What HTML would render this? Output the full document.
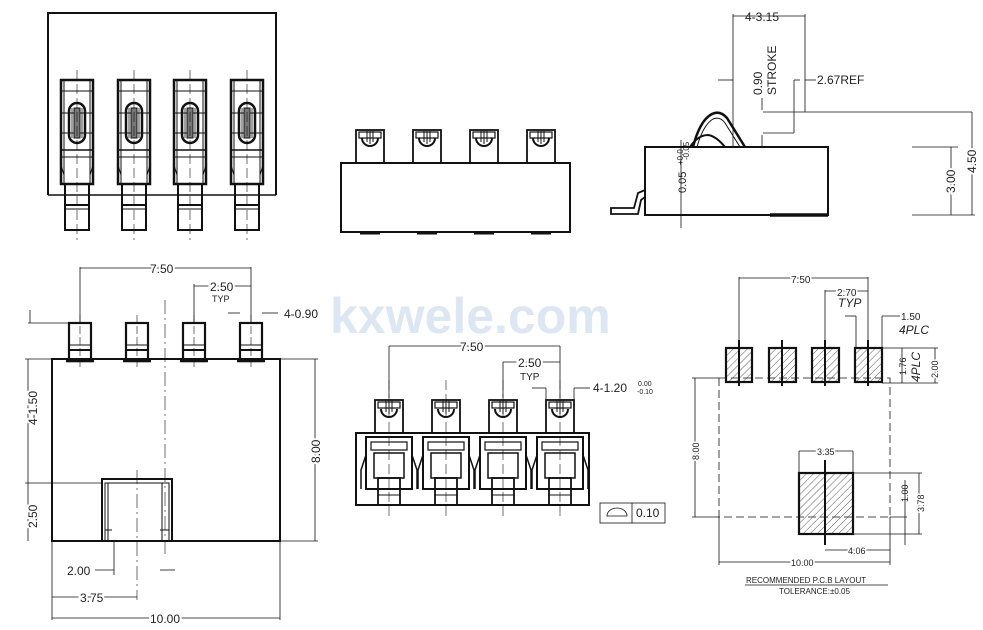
<!DOCTYPE html>
<html><head><meta charset="utf-8"><style>
html,body{margin:0;padding:0;background:#fff;}
svg{display:block;}
text{font-family:"Liberation Sans","DejaVu Sans",sans-serif;fill:#222;}
</style></head><body>
<svg width="983" height="630" viewBox="0 0 983 630" xmlns="http://www.w3.org/2000/svg">
<defs>
<pattern id="h" width="5" height="5" patternUnits="userSpaceOnUse" patternTransform="rotate(45)">
<line x1="0" y1="0" x2="0" y2="5" stroke="#333" stroke-width="0.8"/></pattern>
<g id="p1" fill="none" stroke="#111">
<rect x="-16" y="80" width="32" height="104" stroke-width="2.5"/>
<line x1="-13" y1="80" x2="-13" y2="184" stroke-width="1"/>
<line x1="13" y1="80" x2="13" y2="184" stroke-width="1"/>
<line x1="-16" y1="91" x2="16" y2="91"/>
<line x1="-16" y1="113" x2="16" y2="113"/>
<line x1="-16" y1="133" x2="16" y2="133"/>
<line x1="-16" y1="150" x2="16" y2="150" stroke-width="1.5"/>
<line x1="-16" y1="157" x2="16" y2="157"/>
<rect x="-8" y="103" width="16" height="40" rx="8" stroke-width="2.5"/>
<rect x="-3" y="108" width="6" height="30" fill="#777" stroke-width="1"/>
<line x1="-5" y1="108" x2="-5" y2="138" stroke-width="0.8"/>
<line x1="5" y1="108" x2="5" y2="138" stroke-width="0.8"/>
<path d="M-16 165 L-13 175 L-13 184 M16 165 L13 175 L13 184" stroke-width="1"/>
<rect x="-12" y="184" width="24" height="46" stroke-width="2"/>
<line x1="-12" y1="205" x2="12" y2="205" stroke-width="2"/>
<line x1="-12" y1="209" x2="12" y2="209" stroke-width="1"/>
<line x1="0" y1="70" x2="0" y2="240" stroke-width="0.6" stroke-dasharray="10,4"/>
</g>
<g id="p2" fill="none" stroke="#111">
<rect x="-14" y="130" width="28" height="33" stroke-width="1.8"/>
<rect x="-11" y="132" width="22" height="6" stroke-width="1.2"/>
<path d="M-8 138 A8 8 0 0 0 8 138" stroke-width="2"/>
<line x1="-3" y1="131" x2="-3" y2="142"/><line x1="0" y1="131" x2="0" y2="144"/><line x1="3" y1="131" x2="3" y2="142"/>
<line x1="-10" y1="233" x2="10" y2="233" stroke-width="3"/>
</g>
<g id="p4" fill="none" stroke="#111">
<rect x="-11" y="323" width="22" height="38" stroke-width="2.2"/>
<line x1="-11" y1="345" x2="11" y2="345"/>
<line x1="-11" y1="350" x2="11" y2="350" stroke-width="2"/>
<line x1="-14" y1="361" x2="14" y2="361" stroke-width="2.5"/>
<line x1="0" y1="315" x2="0" y2="370" stroke-width="0.6" stroke-dasharray="8,3"/>
</g>
<g id="p5" fill="none" stroke="#111">
<rect x="-14" y="400" width="28" height="33" stroke-width="1.8"/>
<rect x="-11" y="402" width="22" height="6" stroke-width="1.2"/>
<path d="M-8 409 A8 8 0 0 0 8 409" stroke-width="2"/>
<line x1="-3" y1="401" x2="-3" y2="412"/><line x1="0" y1="401" x2="0" y2="414"/><line x1="3" y1="401" x2="3" y2="412"/>
<rect x="-23" y="437" width="46" height="52" stroke-width="2"/>
<rect x="-18" y="442" width="36" height="8" stroke-width="1.2"/>
<rect x="-15" y="453" width="30" height="25" stroke-width="1.5"/>
<path d="M-23 455 L-28 470 L-28 489 M23 455 L28 470 L28 489" stroke-width="1.5"/>
<rect x="-11" y="478" width="22" height="27" stroke-width="1.8"/>
<line x1="-11" y1="495" x2="11" y2="495"/>
<line x1="0" y1="380" x2="0" y2="520" stroke-width="0.6" stroke-dasharray="10,4"/>
</g>
</defs>

<!-- watermark -->
<text x="330" y="333" font-size="50" font-weight="bold" style="fill:#dde7f3">kxwele.com</text>

<!-- View 1 -->
<path d="M48 195 L48 13 L276 13 L276 195" fill="none" stroke="#111" stroke-width="2"/>
<line x1="48" y1="195" x2="276" y2="195" stroke="#111" stroke-width="1.5"/>
<use href="#p1" x="77"/><use href="#p1" x="134"/><use href="#p1" x="190"/><use href="#p1" x="247"/>

<!-- View 2 -->
<rect x="341" y="163" width="229" height="69" fill="none" stroke="#111" stroke-width="2"/>
<use href="#p2" x="370"/><use href="#p2" x="427"/><use href="#p2" x="484"/><use href="#p2" x="541"/>

<!-- View 3 side -->
<g fill="none" stroke="#111">
<rect x="645" y="147" width="183" height="68" stroke-width="2"/>
<line x1="770" y1="215" x2="828" y2="215" stroke-width="3.5"/>
<path d="M645 190 L638 193 L634 208 L611 208 L611 214 L638 214 L641 200 L645 197" stroke-width="1.8"/>
<path d="M693 147 Q700 120 712 114 Q720 110 727 118 L745 147" stroke-width="2.5"/>
<path d="M697 147 Q703 125 713 119 Q720 116 725 123 L740 147" stroke-width="1"/>
<path d="M690 147 Q698 135 708 135 Q716 136 725 147" stroke-width="2"/>
<g stroke-width="0.8">
<line x1="733" y1="14" x2="733" y2="147"/><line x1="805" y1="14" x2="805" y2="112"/>
<line x1="733" y1="16" x2="805" y2="16"/>
<line x1="718" y1="80" x2="733" y2="80"/>
<line x1="794" y1="80" x2="800" y2="80"/><line x1="805" y1="80" x2="816" y2="80"/>
<line x1="794" y1="80" x2="794" y2="133"/><line x1="763" y1="133" x2="794" y2="133"/>
<line x1="763" y1="112" x2="972" y2="112"/>
<line x1="762" y1="98" x2="762" y2="110"/><line x1="762" y1="135" x2="762" y2="147"/>
<line x1="681" y1="140" x2="681" y2="228"/>
<line x1="912" y1="147" x2="958" y2="147"/><line x1="912" y1="215" x2="975" y2="215"/>
<line x1="951" y1="147" x2="951" y2="215"/><line x1="972" y1="112" x2="972" y2="215"/>
</g>
</g>
<text x="745" y="21" font-size="12">4-3.15</text>
<text x="817" y="84" font-size="12">2.67REF</text>
<text transform="translate(762,95) rotate(-90)" font-size="12">0.90</text>
<text transform="translate(776,95) rotate(-90)" font-size="12">STROKE</text>
<text transform="translate(686,193) rotate(-90)" font-size="11">0.05</text>
<text transform="translate(683,165) rotate(-90)" font-size="8">+0.0</text>
<text transform="translate(689,160) rotate(-90)" font-size="8">-0.05</text>
<text transform="translate(955,193) rotate(-90)" font-size="12" style="fill:#222;paint-order:stroke;stroke:#fff;stroke-width:4">3.00</text>
<text transform="translate(976,173) rotate(-90)" font-size="12" style="fill:#222;paint-order:stroke;stroke:#fff;stroke-width:4">4.50</text>

<!-- View 4 -->
<g fill="none" stroke="#111">
<rect x="52" y="359" width="228" height="182" stroke-width="2"/>
<rect x="102" y="479" width="70" height="62" stroke-width="2"/>
<rect x="105" y="483" width="64" height="58" stroke-width="1"/>
<line x1="108" y1="483" x2="108" y2="541"/><line x1="162" y1="483" x2="162" y2="541"/>
<line x1="105" y1="530" x2="112" y2="530"/><line x1="160" y1="530" x2="169" y2="530"/>
<line x1="165" y1="300" x2="165" y2="555" stroke-width="0.6" stroke-dasharray="14,4,2,4"/>
<line x1="137" y1="470" x2="137" y2="600" stroke-width="0.6" stroke-dasharray="14,4,2,4"/>
</g>
<use href="#p4" x="80"/><use href="#p4" x="137"/><use href="#p4" x="194"/><use href="#p4" x="251"/>
<g stroke="#111" stroke-width="0.8" fill="none">
<line x1="80" y1="267" x2="80" y2="323"/><line x1="251" y1="267" x2="251" y2="323"/>
<line x1="80" y1="268" x2="251" y2="268"/>
<line x1="194" y1="284" x2="194" y2="323"/><line x1="194" y1="286" x2="251" y2="286"/>
<line x1="228" y1="313" x2="240" y2="313"/><line x1="262" y1="313" x2="278" y2="313"/>
<line x1="28" y1="323" x2="69" y2="323"/><line x1="30" y1="310" x2="30" y2="323"/>
<line x1="25" y1="359" x2="52" y2="359"/><line x1="28" y1="359" x2="28" y2="541"/>
<line x1="25" y1="483" x2="102" y2="483"/>
<line x1="280" y1="359" x2="318" y2="359"/><line x1="280" y1="541" x2="318" y2="541"/>
<line x1="315" y1="359" x2="315" y2="541"/>
<line x1="52" y1="541" x2="52" y2="620"/><line x1="280" y1="541" x2="280" y2="620"/>
<line x1="52" y1="618" x2="280" y2="618"/><line x1="52" y1="597" x2="137" y2="597"/>
<line x1="114" y1="541" x2="114" y2="575"/><line x1="95" y1="570" x2="114" y2="570"/>
<line x1="160" y1="570" x2="175" y2="570"/>
</g>
<g font-size="12">
<text x="150" y="273" style="paint-order:stroke;stroke:#fff;stroke-width:4">7.50</text>
<text x="210" y="291" style="paint-order:stroke;stroke:#fff;stroke-width:4">2.50</text>
<text x="212" y="302" font-size="9" font-family="Liberation Serif">TYP</text>
<text x="284" y="318">4-0.90</text>
<text x="67" y="575">2.00</text>
<text x="80" y="602" style="paint-order:stroke;stroke:#fff;stroke-width:4">3.75</text>
<text x="150" y="623" style="paint-order:stroke;stroke:#fff;stroke-width:4">10.00</text>
<text transform="translate(37,425) rotate(-90)" style="paint-order:stroke;stroke:#fff;stroke-width:4">4-1.50</text>
<text transform="translate(37,528) rotate(-90)" style="paint-order:stroke;stroke:#fff;stroke-width:4">2.50</text>
<text transform="translate(320,463) rotate(-90)" style="paint-order:stroke;stroke:#fff;stroke-width:4">8.00</text>
</g>

<!-- View 5 -->
<rect x="356" y="433" width="233" height="72" fill="none" stroke="#111" stroke-width="2"/>
<use href="#p5" x="389"/><use href="#p5" x="446"/><use href="#p5" x="503"/><use href="#p5" x="560"/>
<g stroke="#111" stroke-width="0.8" fill="none">
<line x1="389" y1="346" x2="560" y2="346"/><line x1="389" y1="346" x2="389" y2="398"/><line x1="560" y1="346" x2="560" y2="398"/>
<line x1="503" y1="362" x2="560" y2="362"/><line x1="503" y1="362" x2="503" y2="398"/>
<line x1="532" y1="388" x2="546" y2="388"/><line x1="574" y1="388" x2="590" y2="388"/>
<line x1="546" y1="388" x2="546" y2="400"/><line x1="574" y1="388" x2="574" y2="400"/>
<rect x="600" y="503" width="65" height="20"/><line x1="632" y1="503" x2="632" y2="523"/>
<path d="M607 516 A10 8 0 0 1 627 516 Z"/>
</g>
<g font-size="12">
<text x="460" y="351" style="paint-order:stroke;stroke:#fff;stroke-width:4">7.50</text>
<text x="518" y="367" style="paint-order:stroke;stroke:#fff;stroke-width:4">2.50</text>
<text x="520" y="380" font-size="10">TYP</text>
<text x="593" y="392">4-1.20</text>
<text x="638" y="386" font-size="7">0.00</text>
<text x="637" y="394" font-size="7">-0.10</text>
<text x="636" y="517" font-size="12">0.10</text>
</g>

<!-- View 6 PCB -->
<g stroke="#111" fill="none">
<rect x="719" y="378" width="171" height="139" stroke-width="0.8" stroke-dasharray="8,4"/>
<rect x="726" y="348" width="26" height="34" fill="url(#h)" stroke-width="2.2"/>
<rect x="769" y="348" width="27" height="34" fill="url(#h)" stroke-width="2.2"/>
<rect x="812" y="348" width="27" height="34" fill="url(#h)" stroke-width="2.2"/>
<rect x="855" y="348" width="27" height="34" fill="url(#h)" stroke-width="2.2"/>
<rect x="799" y="473" width="54" height="61" fill="url(#h)" stroke-width="2.2"/>
<g stroke-width="2"><line x1="739" y1="340" x2="739" y2="386"/><line x1="782" y1="340" x2="782" y2="386"/><line x1="825" y1="340" x2="825" y2="386"/><line x1="868" y1="340" x2="868" y2="386"/><line x1="825" y1="460" x2="825" y2="545"/></g>
<g stroke-width="0.8">
<line x1="739" y1="277" x2="739" y2="340"/><line x1="868" y1="277" x2="868" y2="340"/><line x1="739" y1="278" x2="868" y2="278"/>
<line x1="825" y1="290" x2="825" y2="340"/><line x1="825" y1="291" x2="868" y2="291"/>
<line x1="845" y1="316" x2="856" y2="316"/><line x1="856" y1="316" x2="856" y2="348"/>
<line x1="882" y1="316" x2="882" y2="348"/><line x1="882" y1="316" x2="900" y2="316"/>
<line x1="882" y1="348" x2="938" y2="348"/><line x1="882" y1="383" x2="938" y2="383"/>
<line x1="902" y1="348" x2="902" y2="383"/><line x1="935" y1="348" x2="935" y2="383"/>
<line x1="692" y1="378" x2="719" y2="378"/><line x1="695" y1="378" x2="695" y2="517"/><line x1="692" y1="517" x2="719" y2="517"/>
<line x1="799" y1="451" x2="853" y2="451"/><line x1="799" y1="451" x2="799" y2="473"/><line x1="853" y1="451" x2="853" y2="473"/>
<line x1="853" y1="473" x2="922" y2="473"/><line x1="853" y1="534" x2="922" y2="534"/>
<line x1="919" y1="473" x2="919" y2="534"/>
<line x1="890" y1="517" x2="907" y2="517"/><line x1="905" y1="480" x2="905" y2="545"/>
<line x1="825" y1="550" x2="890" y2="550"/><line x1="890" y1="517" x2="890" y2="565"/>
<line x1="719" y1="517" x2="719" y2="565"/><line x1="719" y1="562" x2="890" y2="562"/>
<line x1="745" y1="585" x2="888" y2="585"/>
</g>
</g>
<g font-size="10">
<text x="791" y="283" style="paint-order:stroke;stroke:#fff;stroke-width:3">7.50</text>
<text x="837" y="296" style="paint-order:stroke;stroke:#fff;stroke-width:3">2.70</text>
<text x="838" y="307" font-size="12" font-style="italic">TYP</text>
<text x="901" y="320">1.50</text>
<text x="899" y="334" font-size="12" font-style="italic">4PLC</text>
<text transform="translate(906,375) rotate(-90)" font-size="9">1.76</text>
<text transform="translate(920,382) rotate(-90)" font-size="12" font-style="italic">4PLC</text>
<text transform="translate(938,378) rotate(-90)" font-size="9" style="paint-order:stroke;stroke:#fff;stroke-width:3">2.00</text>
<text transform="translate(699,460) rotate(-90)" font-size="9" style="paint-order:stroke;stroke:#fff;stroke-width:3">8.00</text>
<text x="817" y="455" font-size="9" style="paint-order:stroke;stroke:#fff;stroke-width:3">3.35</text>
<text transform="translate(908,502) rotate(-90)" font-size="9">1.00</text>
<text transform="translate(924,512) rotate(-90)" font-size="9" style="paint-order:stroke;stroke:#fff;stroke-width:3">3.78</text>
<text x="848" y="554" font-size="9" style="paint-order:stroke;stroke:#fff;stroke-width:3">4.06</text>
<text x="791" y="566" font-size="9" style="paint-order:stroke;stroke:#fff;stroke-width:3">10.00</text>
<text x="746" y="583" font-size="8">RECOMMENDED  P.C.B  LAYOUT</text>
<text x="779" y="594" font-size="8">TOLERANCE:±0.05</text>
</g>
</svg>
</body></html>
